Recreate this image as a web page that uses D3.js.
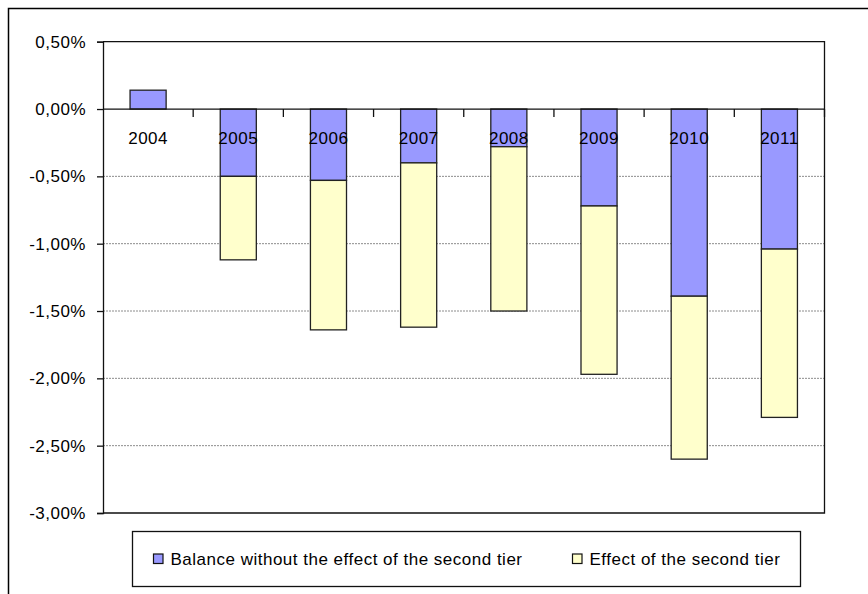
<!DOCTYPE html>
<html>
<head>
<meta charset="utf-8">
<script src="https://cdn.jsdelivr.net/npm/d3@7"></script>
<style>
  html, body { margin: 0; padding: 0; background: #fff; }
  svg { display: block; }
  text { font-family: "Liberation Sans", Arial, sans-serif; font-size: 17px; letter-spacing: 0.5px; fill: #000; }
</style>
</head>
<body>
<svg id="chart" width="868" height="594"></svg>
<script>
// Budget balance split into two components, % of GDP
const years = ["2004", "2005", "2006", "2007", "2008", "2009", "2010", "2011"];
const balanceWithout = [0.14, -0.50, -0.53, -0.40, -0.28, -0.72, -1.39, -1.04];
const secondTierEffect = [0.00, -0.62, -1.11, -1.22, -1.22, -1.25, -1.21, -1.25];
const yTicks = [0.5, 0, -0.5, -1, -1.5, -2, -2.5, -3];
const seriesNames = ["Balance without the effect of the second tier", "Effect of the second tier"];
const seriesColors = ["#9999FF", "#FFFFCC"];

const svg = d3.select("#chart");
const W = 868, H = 594;

// outer chart frame (runs past the right and bottom edge)
svg.append("rect")
  .attr("x", 8.5).attr("y", 8.5)
  .attr("width", W + 20).attr("height", H + 20)
  .attr("fill", "#fff").attr("stroke", "#000").attr("stroke-width", 1.5);

const plot = { left: 103, right: 824.5, top: 41.7, bottom: 513 };

const y = d3.scaleLinear().domain([-3, 0.5]).range([plot.bottom, plot.top]);
const xCat = d3.scaleBand().domain(years).range([plot.left, plot.right]).padding(0);
const barW = xCat.bandwidth() * 0.4;
const barX = d => xCat(d) + (xCat.bandwidth() - barW) / 2;

const locale = d3.formatLocale({ decimal: ",", thousands: ".", grouping: [3], currency: ["", "%"], minus: "-" });
const fmt = locale.format(".2f");

// horizontal gridlines
svg.append("g").selectAll("line")
  .data(yTicks.filter(v => v !== 0 && v !== 0.5 && v !== -3))
  .join("line")
  .attr("x1", plot.left).attr("x2", plot.right)
  .attr("y1", v => y(v)).attr("y2", v => y(v))
  .attr("stroke", "#8c8c8c").attr("stroke-width", 1)
  .attr("stroke-dasharray", "2,1");

// stacked bars
const rows = years.map((yr, i) => ({
  year: yr,
  segs: [
    { s: 0, y0: 0, y1: balanceWithout[i] },
    { s: 1, y0: balanceWithout[i], y1: balanceWithout[i] + secondTierEffect[i] }
  ].filter(d => d.y0 !== d.y1)
}));

svg.append("g").selectAll("g")
  .data(rows)
  .join("g")
  .selectAll("rect")
  .data(r => r.segs.map(s => ({ ...s, year: r.year })))
  .join("rect")
  .attr("x", d => barX(d.year))
  .attr("width", barW)
  .attr("y", d => y(Math.max(d.y0, d.y1)))
  .attr("height", d => Math.abs(y(d.y0) - y(d.y1)))
  .attr("fill", d => seriesColors[d.s])
  .attr("stroke", "#222").attr("stroke-width", 1.3);

// plot area frame (top and right)
svg.append("path")
  .attr("d", `M${plot.left},${plot.top}H${plot.right}V${plot.bottom}H${plot.left}`)
  .attr("fill", "none").attr("stroke", "#111").attr("stroke-width", 1.3);

// value axis
const yAxis = svg.append("g")
  .attr("transform", `translate(${plot.left},0)`)
  .call(d3.axisLeft(y).tickValues(yTicks).tickSize(6).tickPadding(11)
    .tickFormat(v => fmt(v) + "%"));
yAxis.select(".domain").attr("stroke", "#111").attr("stroke-width", 1.3);
yAxis.selectAll(".tick line").attr("stroke", "#111").attr("stroke-width", 1.3);
yAxis.selectAll("text").attr("font-family", null).attr("font-size", null).attr("fill", "#000");

// category axis along zero
const zeroY = y(0);
svg.append("line")
  .attr("x1", plot.left).attr("x2", plot.right)
  .attr("y1", zeroY).attr("y2", zeroY)
  .attr("stroke", "#111").attr("stroke-width", 1.3);

const boundaries = years.map(d => xCat(d)).concat([plot.right]).slice(1);
svg.append("g").selectAll("line")
  .data(boundaries)
  .join("line")
  .attr("x1", d => d).attr("x2", d => d)
  .attr("y1", zeroY).attr("y2", zeroY + 8)
  .attr("stroke", "#111").attr("stroke-width", 1.3);

svg.append("g").selectAll("text")
  .data(years)
  .join("text")
  .attr("x", d => xCat(d) + xCat.bandwidth() / 2)
  .attr("y", zeroY + 35)
  .attr("text-anchor", "middle")
  .text(d => d);

// legend
const legend = svg.append("g");
legend.append("rect")
  .attr("x", 132.5).attr("y", 531.5)
  .attr("width", 668).attr("height", 55)
  .attr("fill", "#fff").attr("stroke", "#111").attr("stroke-width", 1.3);

const legendItems = [
  { x: 153.5, name: seriesNames[0], color: seriesColors[0] },
  { x: 572.5, name: seriesNames[1], color: seriesColors[1] }
];
const li = legend.selectAll("g.item").data(legendItems).join("g").attr("class", "item");
li.append("rect")
  .attr("x", d => d.x).attr("y", 554)
  .attr("width", 9.5).attr("height", 9.5)
  .attr("fill", d => d.color).attr("stroke", "#111").attr("stroke-width", 1.2);
li.append("text")
  .attr("x", d => d.x + 17)
  .attr("y", 565)
  .text(d => d.name);
</script>
</body>
</html>
